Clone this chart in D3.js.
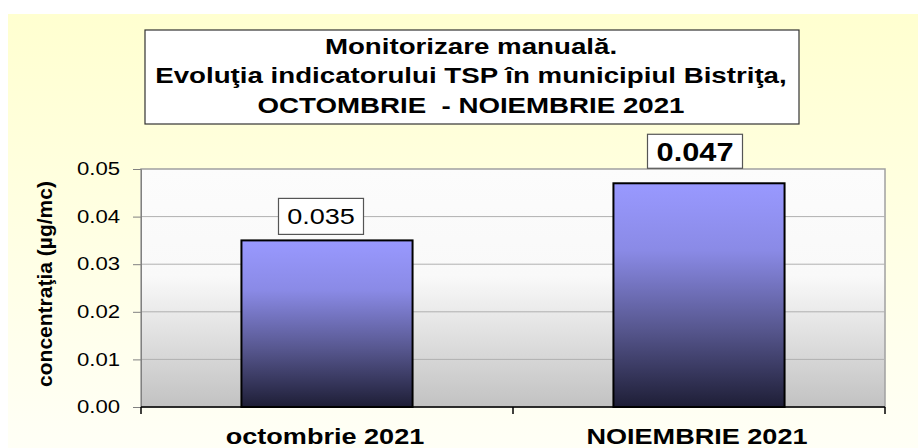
<!DOCTYPE html>
<html>
<head>
<meta charset="utf-8">
<script src="https://cdn.jsdelivr.net/npm/d3@7"></script>
<style>
  body { margin: 0; background: #fff; }
  text { font-family: "Liberation Sans", Arial, sans-serif; fill: #000; white-space: pre; }
</style>
</head>
<body>
<script>
const width = 918;
const height = 448;

// Data
const categories = ["octombrie 2021", "NOIEMBRIE 2021"];
const values = [0.035, 0.047];
const valueLabels = ["0.035", "0.047"];
const yTicks = [0, 0.01, 0.02, 0.03, 0.04, 0.05];
const titleLines = [
  "Monitorizare manuală.",
  "Evoluţia indicatorului TSP în municipiul Bistriţa,",
  "OCTOMBRIE  - NOIEMBRIE 2021"
];

const margin = { top: 169, right: 33, bottom: 41, left: 141 };
// the original picture is stretched sideways, so text is widened to match
const sx = 1.23;

const svg = d3.select("body").append("svg").attr("width", width).attr("height", height);

// widen a text element horizontally around its anchor point
function stretch(sel, k) {
  sel.attr("transform", function () {
    const t = d3.select(this);
    const x0 = +t.attr("x") || 0, y0 = +t.attr("y") || 0;
    return `translate(${x0},${y0}) scale(${k},1) translate(${-x0},${-y0})`;
  });
}

const defs = svg.append("defs");

const bgGrad = defs.append("linearGradient").attr("id", "bg").attr("x1", 0).attr("y1", 0).attr("x2", 0).attr("y2", 1);
bgGrad.append("stop").attr("offset", "0%").attr("stop-color", "#ffffd0");
bgGrad.append("stop").attr("offset", "100%").attr("stop-color", "#fffff6");

const plotGrad = defs.append("linearGradient").attr("id", "plot").attr("x1", 0).attr("y1", 0).attr("x2", 0).attr("y2", 1);
plotGrad.append("stop").attr("offset", "0%").attr("stop-color", "#fcfcfc");
plotGrad.append("stop").attr("offset", "45%").attr("stop-color", "#f9f9f9");
plotGrad.append("stop").attr("offset", "100%").attr("stop-color", "#c2c2c2");

const barGrad = defs.append("linearGradient").attr("id", "bar").attr("x1", 0).attr("y1", 0).attr("x2", 0).attr("y2", 1);
barGrad.append("stop").attr("offset", "0%").attr("stop-color", "#9999ff");
barGrad.append("stop").attr("offset", "30%").attr("stop-color", "#8a8ae6");
barGrad.append("stop").attr("offset", "65%").attr("stop-color", "#57578f");
barGrad.append("stop").attr("offset", "100%").attr("stop-color", "#1e1e36");

svg.append("rect")
  .attr("x", 8).attr("y", 14)
  .attr("width", width - 8).attr("height", height - 14)
  .attr("fill", "url(#bg)");

const x = d3.scaleBand()
  .domain(categories)
  .range([margin.left, width - margin.right])
  .paddingInner(0.54)
  .paddingOuter(0.27);

const y = d3.scaleLinear()
  .domain([0, 0.05])
  .range([height - margin.bottom, margin.top]);

const plotW = width - margin.right - margin.left;
const plotH = height - margin.bottom - margin.top;

svg.append("rect")
  .attr("x", margin.left).attr("y", margin.top)
  .attr("width", plotW).attr("height", plotH)
  .attr("fill", "url(#plot)")
  .attr("stroke", "#a0a0a0")
  .attr("stroke-width", 1.5);

// gridlines
svg.append("g")
  .selectAll("line")
  .data(yTicks.slice(1, -1))
  .join("line")
  .attr("x1", margin.left).attr("x2", width - margin.right)
  .attr("y1", d => y(d)).attr("y2", d => y(d))
  .attr("stroke", "#b0b0b0")
  .attr("stroke-width", 1);

// y axis
const yAxis = svg.append("g")
  .attr("transform", `translate(${margin.left},0)`)
  .call(d3.axisLeft(y).tickValues(yTicks).tickFormat(d3.format(".2f")).tickSize(8).tickPadding(13));
yAxis.select(".domain").attr("stroke", "#808080");
yAxis.selectAll(".tick line").attr("stroke", "#808080");
yAxis.selectAll("text").attr("font-size", 18).attr("fill", "#000").call(stretch, sx);

svg.append("text")
  .attr("transform", `translate(52,${margin.top + plotH / 2 - 4}) rotate(-90)`)
  .attr("text-anchor", "middle")
  .attr("font-size", 21)
  .attr("font-weight", "bold")
  .text("concentraţia (µg/mc)");

// bars
svg.append("g")
  .selectAll("rect")
  .data(values)
  .join("rect")
  .attr("x", (d, i) => x(categories[i]))
  .attr("y", d => y(d))
  .attr("width", x.bandwidth())
  .attr("height", d => y(0) - y(d))
  .attr("fill", "url(#bar)")
  .attr("stroke", "#000")
  .attr("stroke-width", 2);

// x axis line with category boundary ticks
const xAxisG = svg.append("g");
xAxisG.append("line")
  .attr("x1", margin.left).attr("x2", width - margin.right)
  .attr("y1", y(0)).attr("y2", y(0))
  .attr("stroke", "#000").attr("stroke-width", 1.5);
const boundaries = [margin.left, margin.left + plotW / 2, width - margin.right];
xAxisG.selectAll("line.tk")
  .data(boundaries)
  .join("line")
  .attr("class", "tk")
  .attr("x1", d => d).attr("x2", d => d)
  .attr("y1", y(0)).attr("y2", y(0) + 7)
  .attr("stroke", "#000").attr("stroke-width", 1.5);

svg.append("g")
  .selectAll("text")
  .data(categories)
  .join("text")
  .attr("x", d => x(d) + x.bandwidth() / 2 - 2)
  .attr("y", 444)
  .attr("text-anchor", "middle")
  .attr("font-size", 22)
  .attr("font-weight", "bold")
  .text(d => d)
  .call(stretch, sx);

// value labels in boxes
const labelStyle = [
  { size: 22, weight: "normal", w: 85, h: 36, gap: 6, dx: -6, base: 7.5 },
  { size: 25, weight: "bold", w: 95, h: 34, gap: 15, dx: -4, base: 10 }
];
const lab = svg.append("g")
  .selectAll("g")
  .data(values)
  .join("g")
  .attr("transform", (d, i) => `translate(${x(categories[i]) + x.bandwidth() / 2 + labelStyle[i].dx},${y(d) - labelStyle[i].gap - labelStyle[i].h / 2})`);
lab.append("rect")
  .attr("x", (d, i) => -labelStyle[i].w / 2)
  .attr("y", (d, i) => -labelStyle[i].h / 2)
  .attr("width", (d, i) => labelStyle[i].w)
  .attr("height", (d, i) => labelStyle[i].h)
  .attr("fill", "#fff")
  .attr("stroke", "#555")
  .attr("stroke-width", 1.2);
lab.append("text")
  .attr("text-anchor", "middle")
  .attr("x", 0)
  .attr("y", (d, i) => labelStyle[i].base)
  .attr("font-size", (d, i) => labelStyle[i].size)
  .attr("font-weight", (d, i) => labelStyle[i].weight)
  .text((d, i) => valueLabels[i])
  .call(stretch, sx);

// title box
svg.append("rect")
  .attr("x", 145).attr("y", 30)
  .attr("width", 654).attr("height", 94)
  .attr("fill", "#fff")
  .attr("stroke", "#333")
  .attr("stroke-width", 1.2);
svg.append("g")
  .selectAll("text")
  .data(titleLines)
  .join("text")
  .attr("x", 471)
  .attr("y", (d, i) => 54 + i * 29.5)
  .attr("text-anchor", "middle")
  .attr("font-size", 22.5)
  .attr("font-weight", "bold")
  .text(d => d)
  .call(stretch, sx);
</script>
</body>
</html>
